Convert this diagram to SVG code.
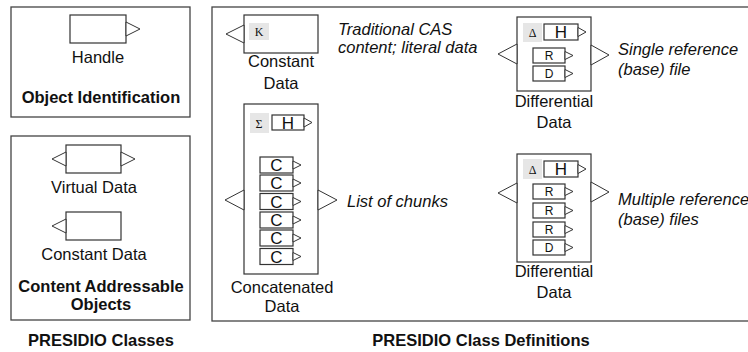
<svg xmlns="http://www.w3.org/2000/svg" width="748" height="352" viewBox="0 0 748 352">
<style>
.frame{fill:none;stroke:#444;stroke-width:1.3}
.box{fill:#fff;stroke:#333;stroke-width:1.2}
.tri{fill:#fff;stroke:#333;stroke-width:1}
.gbox{fill:#e6e6e6;stroke:none}
.lbl{font-family:"Liberation Sans",Arial,sans-serif;font-size:16.5px;fill:#111;text-anchor:middle}
.bold{font-family:"Liberation Sans",Arial,sans-serif;font-size:16.5px;font-weight:bold;fill:#111;text-anchor:middle}
.ital{font-family:"Liberation Sans",Arial,sans-serif;font-size:16.5px;font-style:italic;fill:#111}
.sym{font-family:"Liberation Serif","Times New Roman",serif;font-size:12px;fill:#111;text-anchor:middle}
.big{font-family:"Liberation Sans",Arial,sans-serif;font-size:17px;fill:#111;text-anchor:middle}
.sm{font-family:"Liberation Sans",Arial,sans-serif;font-size:12px;fill:#111;text-anchor:middle}
</style>
<rect width="748" height="352" fill="#fff"/>

<g id="frames">
<rect class="frame" x="11" y="7" width="179" height="110"/>
<rect class="frame" x="11" y="136" width="179" height="184"/>
<rect class="frame" x="212" y="7" width="545" height="314"/>
</g>

<g id="handle">
<rect class="box" x="70" y="15" width="56" height="28"/>
<polygon class="tri" points="126,22 140,29 126,36"/>
<text class="lbl" x="98" y="63">Handle</text>
<text class="bold" x="101" y="103">Object Identification</text>
</g>

<g id="virtual-data">
<rect class="box" x="66" y="145" width="55" height="28"/>
<polygon class="tri" points="66,152 52,159 66,166"/>
<polygon class="tri" points="121,152 135,159 121,166"/>
<text class="lbl" x="94" y="193">Virtual Data</text>
</g>

<g id="constant-data-legend">
<rect class="box" x="66" y="212" width="55" height="28"/>
<polygon class="tri" points="66,219 52,226 66,233"/>
<text class="lbl" x="94" y="260">Constant Data</text>
<text class="bold" x="101" y="292">Content Addressable</text>
<text class="bold" x="101" y="310">Objects</text>
</g>

<g id="captions">
<text class="bold" x="101" y="346">PRESIDIO Classes</text>
<text class="bold" x="481" y="346">PRESIDIO Class Definitions</text>
</g>

<g id="constant-data">
<rect class="box" x="244" y="15" width="74" height="38"/>
<polygon class="tri" points="244,25 226,34 244,43"/>
<rect class="gbox" x="249" y="23" width="20" height="17"/>
<text class="sym" x="259" y="36">K</text>
<text class="lbl" x="281" y="67">Constant</text>
<text class="lbl" x="281" y="89">Data</text>
<text class="ital" x="338" y="35">Traditional CAS</text>
<text class="ital" x="338" y="53">content; literal data</text>
</g>

<g id="concatenated-data">
<rect class="box" x="244" y="104" width="74" height="170"/>
<polygon class="tri" points="244,190 225,200 244,210"/>
<polygon class="tri" points="318,190 337,200 318,210"/>
<rect class="gbox" x="250" y="113" width="19" height="20"/>
<text class="sym" x="259" y="128">Σ</text>
<rect class="box" x="272" y="115" width="32" height="15"/>
<polygon class="tri" points="304,118 312,122.5 304,127"/>
<text class="big" x="288" y="129">H</text>
<g id="chunks">
<rect class="box" x="260" y="157" width="33" height="16"/><polygon class="tri" points="293,161 301,165 293,169"/><text class="big" x="276.5" y="171">C</text>
<rect class="box" x="260" y="175" width="33" height="16"/><polygon class="tri" points="293,179 301,183 293,187"/><text class="big" x="276.5" y="189">C</text>
<rect class="box" x="260" y="193.5" width="33" height="16"/><polygon class="tri" points="293,197.5 301,201.5 293,205.5"/><text class="big" x="276.5" y="207.5">C</text>
<rect class="box" x="260" y="212" width="33" height="16"/><polygon class="tri" points="293,216 301,220 293,224"/><text class="big" x="276.5" y="226">C</text>
<rect class="box" x="260" y="230" width="33" height="16"/><polygon class="tri" points="293,234 301,238 293,242"/><text class="big" x="276.5" y="244">C</text>
<rect class="box" x="260" y="248.5" width="33" height="16"/><polygon class="tri" points="293,252.5 301,256.5 293,260.5"/><text class="big" x="276.5" y="262.5">C</text>
</g>
<text class="lbl" x="282" y="293">Concatenated</text>
<text class="lbl" x="282" y="312">Data</text>
<text class="ital" x="347" y="207">List of chunks</text>
</g>

<g id="differential-single">
<rect class="box" x="517" y="17" width="74" height="74"/>
<polygon class="tri" points="517,44 498,54 517,64"/>
<polygon class="tri" points="591,45 609,55 591,65"/>
<rect class="gbox" x="523" y="23" width="19" height="19"/>
<text class="sym" x="532.5" y="37">Δ</text>
<rect class="box" x="544" y="24" width="34" height="16"/>
<polygon class="tri" points="578,27.5 586,32 578,36.5"/>
<text class="big" x="561" y="38">H</text>
<rect class="box" x="533" y="48" width="32" height="15"/>
<polygon class="tri" points="565,51.5 573,55.5 565,59.5"/>
<text class="sm" x="549" y="60">R</text>
<rect class="box" x="533" y="66" width="32" height="15"/>
<polygon class="tri" points="565,69.5 573,73.5 565,77.5"/>
<text class="sm" x="549" y="78">D</text>
<text class="lbl" x="554" y="107">Differential</text>
<text class="lbl" x="554" y="128">Data</text>
<text class="ital" x="618" y="55">Single reference</text>
<text class="ital" x="618" y="75">(base) file</text>
</g>

<g id="differential-multiple">
<rect class="box" x="517" y="154" width="74" height="108"/>
<polygon class="tri" points="517,183 498,193 517,203"/>
<polygon class="tri" points="591,182 609,192 591,202"/>
<rect class="gbox" x="523" y="159" width="19" height="20"/>
<text class="sym" x="532.5" y="174">Δ</text>
<rect class="box" x="544" y="161" width="34" height="16"/>
<polygon class="tri" points="578,164.5 586,169 578,173.5"/>
<text class="big" x="561" y="175">H</text>
<rect class="box" x="533" y="184" width="32" height="15"/>
<polygon class="tri" points="565,187.5 573,191.5 565,195.5"/>
<text class="sm" x="549" y="196">R</text>
<rect class="box" x="533" y="203" width="32" height="15"/>
<polygon class="tri" points="565,206.5 573,210.5 565,214.5"/>
<text class="sm" x="549" y="215">R</text>
<rect class="box" x="533" y="222" width="32" height="15"/>
<polygon class="tri" points="565,225.5 573,229.5 565,233.5"/>
<text class="sm" x="549" y="234">R</text>
<rect class="box" x="533" y="240" width="32" height="15"/>
<polygon class="tri" points="565,243.5 573,247.5 565,251.5"/>
<text class="sm" x="549" y="252">D</text>
<text class="lbl" x="554" y="277">Differential</text>
<text class="lbl" x="554" y="298">Data</text>
<text class="ital" x="618" y="205">Multiple reference</text>
<text class="ital" x="618" y="225">(base) files</text>
</g>
</svg>
